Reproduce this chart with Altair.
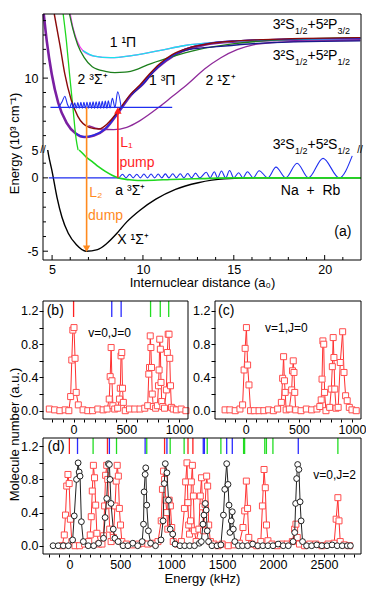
import altair as alt
import pandas as pd

FONT = "Liberation Sans, Arial, Helvetica, sans-serif"

# ---------------- layout (pixels inside the chart) ----------------
W, H = 318, 540
A_TOP, A_BREAK, A_BOT = 0, 136, 246
BC_TOP, BC_BOT = 287, 405
B_L, B_R = 0, 145
C_L, C_R = 172, W
D_TOP, D_BOT = 424, 540

# ---------------- domains ----------------
R_DOM = [4.5, 22.0]
EUP_DOM = [5.0, 14.46]
ELO_DOM = [-5.6, 1.9]
BC_XDOM = [-290, 1085]
BC_YDOM = [-0.1, 1.32]
D_XDOM = [-259, 2864]
D_YDOM = [-0.1, 1.30]

# ---------------- colours ----------------
CYAN, MAG, DKGREEN = "#19E3EC", "#F23CF0", "#1C7F1C"
BROWN, VIOLET, BLUE = "#8B0A0A", "#7A1FA2", "#1E2EF0"
NAVY, PURPLE, AGREEN = "#1A1A8C", "#8E2A9A", "#1ED81E"
ORANGE, RED = "#FF8A1E", "#FF1E1E"
TH_RED, TH_BLUE, TH_GREEN = "#FF2020", "#2B2BFF", "#22DD22"

# ================= DATA: panel (a) =================
magenta_r = [6.00, 6.16, 6.39, 6.70, 7.32, 8.21, 9.46, 10.89, 12.32, 13.93, 15.71, 18.39, 21.96]
magenta_E = [14.46, 13.45, 12.55, 11.91, 11.53, 11.42, 11.58, 11.91, 12.27, 12.48, 12.61, 12.70, 12.77]
cyan_r = [6.70, 7.32, 8.21, 9.46, 10.89, 12.32, 13.93, 15.71, 18.39, 21.96]
cyan_E = [11.91, 11.53, 11.42, 11.58, 11.91, 12.27, 12.48, 12.61, 12.70, 12.77]
dkgreen_r = [5.96, 6.14, 6.41, 6.77, 7.21, 7.93, 8.46, 9.00, 9.71, 10.25, 11.43, 13.04, 14.82, 17.5, 21.96]
dkgreen_E = [14.46, 13.45, 12.32, 11.42, 10.79, 10.47, 10.38, 10.41, 10.63, 10.92, 11.42, 11.98, 12.36, 12.66, 12.82]
brown_r = [5.12, 5.43, 5.70, 6.05, 6.41, 7.04, 7.57, 8.11, 8.64, 9.36, 9.82, 10.36, 10.89, 11.61, 12.5, 13.75, 15.18, 16.61, 21.96]
brown_E = [14.46, 12.32, 10.29, 8.49, 7.36, 6.58, 6.46, 6.91, 7.72, 8.94, 9.50, 10.29, 10.97, 11.64, 12.09, 12.43, 12.59, 12.68, 12.82]
violet_r = [4.54, 4.71, 4.98, 5.34, 5.79, 6.32, 6.77, 7.30, 7.93, 8.64, 9.36, 10.0, 10.54, 11.25, 12.14, 13.39, 15.18, 18.39, 21.96]
violet_E = [14.46, 12.55, 10.29, 8.27, 6.91, 6.13, 5.90, 6.01, 6.46, 7.60, 8.85, 9.60, 10.41, 11.19, 11.87, 12.32, 12.55, 12.68, 12.73]
blue3pi_r = [6.32, 6.77, 7.30, 7.93, 8.64, 9.36, 10.0, 10.54, 11.25, 12.14, 13.39, 15.18, 18.39, 21.96]
blue3pi_E = [6.15, 5.92, 6.03, 6.48, 7.62, 8.87, 9.63, 10.45, 11.24, 11.92, 12.37, 12.60, 12.72, 12.76]
navy_r = [9.36, 10.0, 10.54, 11.43, 12.5, 14.29, 16.25, 18.39, 21.96]
navy_E = [8.85, 9.60, 10.41, 11.42, 11.98, 12.21, 12.41, 12.52, 12.59]
purple_r = [7.0, 7.68, 8.39, 9.11, 9.82, 10.89, 11.61, 12.5, 13.39, 14.29, 15.18, 16.07, 17.5, 19.29, 21.96]
purple_E = [6.70, 6.46, 6.42, 6.58, 7.03, 7.99, 8.72, 9.62, 10.63, 11.42, 11.98, 12.32, 12.50, 12.58, 12.62]
agreen_up_r = [5.61, 5.79, 5.96, 6.14, 6.32, 6.43]
agreen_up_E = [14.46, 12.55, 10.29, 8.04, 5.79, 5.0]

wave_base = [4.91, 11.61, 7.97]  # r start, r end, energy of the bound level
upwave_r = [5.36, 5.55, 5.70, 5.84, 5.96, 6.08, 6.164, 6.248, 6.332, 6.416, 6.50, 6.584, 6.668,
            6.752, 6.836, 6.92, 7.004, 7.088, 7.172, 7.256, 7.34, 7.424, 7.508, 7.592, 7.676,
            7.76, 7.844, 7.928, 8.012, 8.096, 8.19, 8.32, 8.46, 8.61, 8.80]
upwave_E = [7.97, 8.35, 8.74, 8.20, 7.92, 8.28, 7.90, 8.29, 7.90, 8.30, 7.90, 8.31, 7.90,
            8.32, 7.90, 8.33, 7.90, 8.34, 7.90, 8.35, 7.90, 8.36, 7.90, 8.37, 7.90,
            8.39, 7.90, 8.40, 7.90, 8.42, 7.92, 8.60, 7.95, 9.05, 7.97]

agreen_lo_r = [6.48, 6.59, 6.88, 7.21, 7.55, 7.93, 8.30, 8.64, 9.20, 9.71, 10.6, 11.5, 13.2, 15.0, 22.0]
agreen_lo_E = [1.9, 1.78, 1.42, 1.11, 0.76, 0.44, 0.18, 0.0, -0.12, -0.18, -0.16, -0.11, -0.05, 0.0, 0.0]
black_r = [4.76, 4.80, 5.0, 5.27, 5.54, 5.89, 6.34, 6.87, 7.5, 8.04, 8.57, 9.11, 9.82, 10.71, 11.79, 13.04, 14.46, 16.6, 22.0]
black_E = [1.9, 1.6, 0.44, -1.33, -2.67, -3.78, -4.56, -5.0, -4.89, -4.44, -3.78, -3.0, -2.22, -1.45, -0.78, -0.33, -0.07, 0.0, 0.0]
lowave_r = [4.82, 8.66, 8.875, 9.071, 9.268, 9.464, 9.661, 9.857, 10.054, 10.25, 10.446, 10.643,
            10.839, 11.036, 11.232, 11.429, 11.643, 11.839, 12.054, 12.25, 12.464, 12.679,
            12.893, 13.125, 13.482, 13.696, 13.929, 14.107, 14.321, 14.554, 14.768, 15.0,
            15.268, 15.5, 15.75, 16.071, 16.393, 16.875, 17.321, 17.857, 18.482, 19.107,
            19.911, 20.804, 21.518]
lowave_E = [0, 0, 0.25, 0, 0.25, 0, 0.25, 0, 0.26, 0, 0.26, 0,
            0.26, 0, 0.27, 0, 0.28, 0, 0.28, 0, 0.30, 0,
            0.32, 0, 0.38, 0, 0.42, 0, 0.47, 0, 0.50, 0,
            0.35, 0, 0.42, 0, 0.49, 0, 0.73, 0, 1.0, 0,
            1.33, 0, 1.5]

L1_r, L1_up, L1_lo, L1_head = 8.62, [5.0, 7.75], [0.0, 1.9], 7.75
L2_r, L2_up, L2_lo, L2_head = 6.90, [5.0, 7.97], [-4.83, 1.9], -4.83

a_xt_major, a_xt_minor = [5, 10, 15, 20], [6, 7, 8, 9, 11, 12, 13, 14, 16, 17, 18, 19, 21]
a_yt_up_major, a_yt_up_minor = [10], [6, 7, 8, 9, 11, 12, 13, 14]
a_yt_lo_major, a_yt_lo_minor = [-5, 0], [-4, -3, -2, -1, 1]

up_labels = [("1 \u00b9\u03a0", 8.9, 12.43, "black"), ("2 \u00b3\u03a3\u207a", 7.23, 9.86, "black"),
             ("1 \u00b3\u03a0", 11.06, 9.80, "black"), ("2 \u00b9\u03a3\u207a", 14.27, 9.80, "black")]
up_left_labels = [("L\u2081", 8.75, 5.47, RED)]
lo_labels = [("pump", 8.71, 1.02, RED), ("L\u2082", 7.04, -1.0, ORANGE), ("dump", 6.98, -2.58, ORANGE),
             ("a \u00b3\u03a3\u207a", 8.48, -0.91, "black"), ("X \u00b9\u03a3\u207a", 8.59, -4.25, "black"),
             ("Na\u00a0\u00a0+\u00a0\u00a0Rb", 17.59, -0.91, "black"), ("(a)", 20.53, -3.71, "black")]
asym_r = 17.14
asym_E = [13.67, 11.53, 5.36]
asym_main1 = ["3\u00b2S", "3\u00b2S", "3\u00b2S"]
asym_sub1 = ["1/2", "1/2", "1/2"]
asym_main2 = ["+5\u00b2P", "+5\u00b2P", "+5\u00b2S"]
asym_sub2 = ["3/2", "1/2", "1/2"]

# ================= DATA: panels (b), (c), (d) =================
b_khz = [-230, -180, -130, -80, -45, -28, -17, -7, 4, 14, 25, 45, 90, 135, 180, 230, 280, 318, 338, 347,
         356, 364, 373, 390, 418, 435, 443, 450, 457, 464, 472, 490, 530, 580, 630, 675, 703, 713, 720, 727,
         733, 739, 746, 756, 778, 795, 805, 811, 817, 823, 829, 836, 846, 862, 880, 889, 897, 905, 912, 919,
         928, 945, 975, 1020, 1065]
b_val = [0.02, 0.01, 0.0, 0.01, 0.0, 0.17, 0.61, 0.97, 1.0, 0.63, 0.22, 0.07, 0.01, 0.0, 0.0, 0.02, 0.01, 0.02, 0.14, 0.41,
         0.76, 0.36, 0.06, 0.02, 0.03, 0.14, 0.27, 0.66, 0.70, 0.27, 0.10, 0.0, 0.02, 0.02, 0.02, 0.03, 0.06, 0.44, 0.52, 0.90,
         0.76, 0.52, 0.20, 0.05, 0.03, 0.06, 0.30, 0.49, 0.86, 0.74, 0.34, 0.11, 0.05, 0.03, 0.25, 0.70, 0.92, 0.92, 0.63, 0.30,
         0.04, 0.02, 0.01, 0.02, 0.0]
b_th_khz = [0, 362, 451, 730, 822, 902]
b_th_col = [TH_RED, TH_BLUE, TH_BLUE, TH_GREEN, TH_GREEN, TH_GREEN]

c_khz = [-195, -150, -100, -55, -30, -16, -6, 6, 17, 30, 45, 80, 125, 170, 215, 260, 300, 335, 347, 356,
         364, 371, 380, 410, 432, 440, 447, 454, 461, 470, 520, 570, 620, 670, 697, 710, 718, 726, 734, 742,
         755, 790, 805, 815, 823, 830, 838, 850, 870, 890, 912, 925, 940, 955, 975, 1000, 1040]
c_val = [0.01, 0.01, 0.0, 0.02, 0.07, 0.49, 0.75, 1.0, 0.55, 0.31, 0.0, 0.0, 0.0, 0.0, 0.01, 0.0, 0.02, 0.10, 0.39, 0.65,
         0.36, 0.22, 0.01, 0.02, 0.25, 0.48, 0.60, 0.46, 0.22, 0.01, 0.0, 0.02, 0.01, 0.02, 0.05, 0.13, 0.38, 0.84, 0.80, 0.22,
         0.0, 0.04, 0.26, 0.53, 0.88, 0.64, 0.26, 0.03, 0.04, 0.58, 0.95, 0.46, 0.18, 0.12, 0.04, 0.01, 0.0]

d_red_khz = [-70, -50, -38, -26, -14, -2, 10, 24, 55, 100, 150, 190, 205, 215, 225, 236, 247, 258, 270, 290,
             320, 336, 346, 356, 367, 377, 386, 396, 410, 432, 448, 460, 470, 481, 491, 502, 515, 560, 620, 680,
             720, 770, 820, 870, 902, 914, 925, 935, 946, 957, 967, 980, 992, 1005, 1020, 1060, 1100, 1130, 1142, 1155,
             1164, 1172, 1180, 1190, 1198, 1208, 1218, 1228, 1245, 1272, 1286, 1298, 1308, 1318, 1333, 1348, 1358, 1368, 1385, 1420,
             1460, 1500, 1560, 1620, 1670, 1705, 1722, 1738, 1750, 1762, 1790, 1840, 1880, 1896, 1912, 1924, 1936, 1950, 1990, 2040,
             2090, 2140, 2190, 2212, 2225, 2238, 2260, 2310, 2360, 2420, 2480, 2540, 2600, 2620, 2637, 2648, 2660, 2700, 2750]
d_red_val = [0.0, 0.13, 0.37, 0.72, 0.86, 0.75, 0.32, 0.05, 0.0, 0.0, 0.02, 0.05, 0.13, 0.35, 0.66, 0.97, 0.82, 0.49, 0.15, 0.02,
             0.02, 0.12, 0.48, 0.85, 0.97, 0.80, 0.49, 0.20, 0.05, 0.10, 0.48, 0.78, 0.97, 0.84, 0.45, 0.25, 0.05, 0.02, 0.01, 0.02,
             0.03, 0.02, 0.03, 0.05, 0.30, 0.68, 0.90, 0.80, 0.55, 0.40, 0.20, 0.55, 0.48, 0.22, 0.05, 0.02, 0.05, 0.45, 0.77, 1.0,
             0.52, 0.25, 0.14, 0.30, 0.77, 0.97, 0.60, 0.18, 0.05, 0.20, 0.60, 0.82, 0.47, 0.18, 0.50, 0.84, 0.72, 0.25, 0.05, 0.02,
             0.0, 0.02, 0.0, 0.01, 0.03, 0.22, 0.42, 0.78, 0.45, 0.10, 0.02, 0.0, 0.05, 0.48, 0.92, 0.70, 0.25, 0.06, 0.02, 0.0,
             0.02, 0.02, 0.05, 0.20, 0.26, 0.10, 0.02, 0.0, 0.02, 0.02, 0.0, 0.02, 0.03, 0.32, 0.58, 0.30, 0.05, 0.01, 0.0]
d_blk_khz = [-160, -110, -60, -10, 32, 48, 70, 86, 96, 105, 118, 137, 185, 239, 287, 335, 351, 367, 383, 393,
             399, 409, 431, 447, 479, 527, 575, 623, 671, 715, 728, 734, 744, 750, 760, 776, 798, 846, 900, 920,
             932, 942, 958, 974, 990, 1015, 1038, 1086, 1133, 1181, 1229, 1277, 1296, 1312, 1322, 1335, 1344, 1354, 1367, 1400,
             1450, 1488, 1513, 1526, 1545, 1558, 1568, 1577, 1590, 1600, 1610, 1625, 1660, 1700, 1750, 1800, 1850, 1900, 1950, 2000,
             2050, 2100, 2150, 2197, 2213, 2222, 2232, 2242, 2254, 2266, 2276, 2290, 2330, 2380, 2430, 2480, 2530, 2580, 2630, 2680,
             2730, 2760]
d_blk_val = [0.0, 0.0, 0.0, 0.0, 0.07, 0.36, 0.80, 1.0, 0.89, 0.84, 0.29, 0.05, 0.0, 0.0, 0.03, 0.09, 0.34, 0.57, 0.99, 0.98,
             0.80, 0.51, 0.20, 0.09, 0.05, 0.0, 0.0, 0.03, 0.0, 0.05, 0.26, 0.65, 0.86, 0.94, 0.49, 0.18, 0.03, 0.0, 0.07, 0.30,
             0.75, 0.99, 0.88, 0.55, 0.20, 0.14, 0.02, 0.0, 0.0, 0.0, 0.0, 0.03, 0.05, 0.26, 0.37, 0.51, 0.43, 0.18, 0.05, 0.0,
             0.0, 0.01, 0.37, 0.68, 0.99, 0.74, 0.49, 0.16, 0.30, 0.41, 0.20, 0.05, 0.0, 0.0, 0.0, 0.02, 0.0, 0.0, 0.0, 0.0,
             0.02, 0.0, 0.0, 0.05, 0.16, 0.51, 0.81, 0.98, 0.92, 0.53, 0.30, 0.05, 0.0, 0.0, 0.01, 0.0, 0.0, 0.01, 0.0, 0.0,
             0.0, 0.0]
d_th_khz = [0, 80, 233, 374, 393, 463, 744, 760, 935, 958, 990, 1127, 1165, 1213, 1315, 1326, 1354, 1488,
            1545, 1600, 1711, 1721, 1919, 1935, 1999, 2248, 2637]
d_th_col = [TH_RED, TH_BLUE, TH_GREEN, TH_RED, TH_BLUE, TH_GREEN, TH_BLUE, TH_GREEN, TH_RED, TH_BLUE, TH_GREEN,
            TH_GREEN, TH_RED, TH_RED, TH_BLUE, TH_BLUE, TH_GREEN, TH_GREEN, TH_BLUE, TH_BLUE, TH_GREEN, TH_GREEN,
            TH_GREEN, TH_GREEN, TH_GREEN, TH_BLUE, TH_GREEN]

panel_tags = [("(b)", -255, 1.20), ("(c)", -262, 1.20), ("(d)", -215, 1.19)]
state_tags = [("v=0,J=0", 138, 0.935), ("v=1,J=0", 181, 0.99), ("v=0,J=2", 2395, 0.85)]

DUMMY = pd.DataFrame({"k": [0]})


# ================= scales =================
def sc(dom, rng):
    return alt.Scale(domain=dom, range=rng, nice=False, zero=False)


SX_A = sc(R_DOM, [0, W])
SY_UP = sc(EUP_DOM, [A_BREAK, A_TOP])
SY_LO = sc(ELO_DOM, [A_BOT, A_BREAK])
SX_B = sc(BC_XDOM, [B_L, B_R])
SX_C = sc(BC_XDOM, [C_L, C_R])
SY_BC = sc(BC_YDOM, [BC_BOT, BC_TOP])
SX_D = sc(D_XDOM, [0, W])
SY_D = sc(D_YDOM, [D_BOT, D_TOP])

# ================= axes =================
ax_a_up_y = alt.Axis(orient="left", values=[5, 10], ticks=False, domain=False, grid=False, labelPadding=5,
                     format="d", title="Energy (10\u00b3 cm\u207b\u00b9)", titleX=-22, titleY=129,
                     titleAngle=270, titleBaseline="bottom", titleAlign="center")
ax_a_lo_y = alt.Axis(orient="left", values=[-5, 0], ticks=False, domain=False, grid=False, labelPadding=5,
                     labelExpr="datum.value < 0 ? '-' + format(-datum.value, 'd') : format(datum.value, 'd')",
                     title=None)
ax_a_lo_x = alt.Axis(orient="bottom", offset=A_BOT - H, values=[5, 10, 15, 20], ticks=False, domain=False,
                     grid=False, labelPadding=3, format="d", labelFlush=False,
                     title="Internuclear distance (a\u2080)", titlePadding=1)

Y_VALS = [0, 0.2, 0.4, 0.6, 0.8, 1.0, 1.2]
Y_EXPR = "round(datum.value*10) % 4 == 0 ? format(datum.value, '.1f') : ''"
X_EXPR = "datum.value % 500 == 0 ? format(datum.value, 'd') : ''"


def mol_y(offset, title=None):
    if title:
        return alt.Axis(orient="left", offset=offset, values=Y_VALS, labelExpr=Y_EXPR, tickSize=4,
                        labelPadding=1, domain=False, grid=False, title=title, titleX=-22, titleY=420,
                        titleAngle=270, titleBaseline="bottom", titleAlign="center")
    return alt.Axis(orient="left", offset=offset, values=Y_VALS, labelExpr=Y_EXPR, tickSize=4,
                    labelPadding=1, domain=False, grid=False, title=None)


def khz_x(offset, vals, title=None):
    if title:
        return alt.Axis(orient="bottom", offset=offset, values=vals, labelExpr=X_EXPR, tickSize=3,
                        labelPadding=1, domain=False, grid=False, labelFlush=False, labelOverlap=False,
                        title=title, titlePadding=2)
    return alt.Axis(orient="bottom", offset=offset, values=vals, labelExpr=X_EXPR, tickSize=3,
                    labelPadding=1, domain=False, grid=False, labelFlush=False, labelOverlap=False, title=None)


# every layer of a panel carries the same (x, y) scales and axes, so that they merge
P_UP = (SX_A, SY_UP, None, ax_a_up_y)
P_LO = (SX_A, SY_LO, ax_a_lo_x, ax_a_lo_y)
P_B = (SX_B, SY_BC, khz_x(BC_BOT - H, list(range(-200, 1001, 100))), mol_y(0))
P_C = (SX_C, SY_BC, khz_x(BC_BOT - H, list(range(-200, 1001, 100))), mol_y(-C_L))
P_D = (SX_D, SY_D, khz_x(0, list(range(-200, 2801, 100)), title="Energy (kHz)"),
       mol_y(0, title="Molecule number (a.u.)"))


def X(field, p):
    return alt.X(f"{field}:Q", scale=p[0], axis=p[2])


def Y(field, p):
    return alt.Y(f"{field}:Q", scale=p[1], axis=p[3])


def curve(xs, ys, color, p, width=1.3):
    df = pd.DataFrame({"x": xs, "y": ys})
    return alt.Chart(df).mark_line(color=color, strokeWidth=width, interpolate="monotone").encode(
        x=X("x", p), y=Y("y", p))


def vseg(r, ys, color, p):
    df = pd.DataFrame({"x": [r], "y1": [ys[0]], "y2": [ys[1]]})
    return alt.Chart(df).mark_rule(color=color, strokeWidth=1.6).encode(x=X("x", p), y=Y("y1", p), y2="y2:Q")


def hseg(xs, e, color, p):
    df = pd.DataFrame({"x1": [xs[0]], "x2": [xs[1]], "y": [e]})
    return alt.Chart(df).mark_rule(color=color, strokeWidth=1.2).encode(x=X("x1", p), x2="x2:Q", y=Y("y", p))


def head(r, e, shape, color, p):
    df = pd.DataFrame({"x": [r], "y": [e]})
    return alt.Chart(df).mark_point(shape=shape, filled=True, color=color, size=55, opacity=1).encode(
        x=X("x", p), y=Y("y", p))


def texts(items, p, size=14, align="left"):
    df = pd.DataFrame(items, columns=["t", "x", "y", "c"])
    return alt.Chart(df).mark_text(align=align, baseline="middle", fontSize=size, font=FONT).encode(
        x=X("x", p), y=Y("y", p), text="t:N", color=alt.Color("c:N", scale=None))


def bottom_ticks(vals, p, ybot, length):
    df = pd.DataFrame({"x": vals})
    return alt.Chart(df).mark_rule(color="black", strokeWidth=1).encode(
        x=X("x", p), y=alt.value(ybot), y2=alt.value(ybot - length))


def left_ticks(vals, p, length):
    df = pd.DataFrame({"y": vals})
    return alt.Chart(df).mark_rule(color="black", strokeWidth=1).encode(
        y=Y("y", p), x=alt.value(0), x2=alt.value(length))


def theory(xs, cols, p, top):
    df = pd.DataFrame({"x": xs, "c": cols})
    return alt.Chart(df).mark_rule(strokeWidth=1.3).encode(
        x=X("x", p), y=alt.value(top), y2=alt.value(top + 16), color=alt.Color("c:N", scale=None))


def scatter(xs, ys, p, line_color, stroke, shape, size):
    df = pd.DataFrame({"x": xs, "y": ys})
    base = alt.Chart(df).encode(x=X("x", p), y=Y("y", p))
    ln = base.mark_line(color=line_color, strokeWidth=1)
    pt = base.mark_point(shape=shape, size=size, filled=True, fill="white", stroke=stroke,
                         strokeWidth=1, opacity=1)
    return [ln, pt]


def frame(l, r, t, b):
    return alt.Chart(DUMMY).mark_rect(fill="white", fillOpacity=0, stroke="black", strokeWidth=1).encode(
        x=alt.value(l), x2=alt.value(r), y=alt.value(t), y2=alt.value(b))


# ================= panel (a), upper part =================
up_layers = [
    curve(violet_r, violet_E, VIOLET, P_UP, width=2.6),
    curve(agreen_up_r, agreen_up_E, AGREEN, P_UP),
    curve(purple_r, purple_E, PURPLE, P_UP),
    curve(magenta_r, magenta_E, MAG, P_UP),
    curve(cyan_r, cyan_E, CYAN, P_UP),
    curve(dkgreen_r, dkgreen_E, DKGREEN, P_UP),
    curve(navy_r, navy_E, NAVY, P_UP),
    curve(blue3pi_r, blue3pi_E, BLUE, P_UP, width=1.2),
    curve(brown_r, brown_E, BROWN, P_UP, width=1.4),
    hseg(wave_base[:2], wave_base[2], BLUE, P_UP),
    curve(upwave_r, upwave_E, BLUE, P_UP, width=1.1),
    vseg(L2_r, L2_up, ORANGE, P_UP),
    vseg(L1_r, L1_up, RED, P_UP),
    head(L1_r, L1_head, "triangle-up", RED, P_UP),
    texts(up_labels, P_UP, size=14, align="center"),
    texts(up_left_labels, P_UP, size=14),
    left_ticks(a_yt_up_minor, P_UP, 3),
    left_ticks(a_yt_up_major, P_UP, 5),
]
asym_df = pd.DataFrame({"x": [asym_r] * 3, "y": asym_E, "m1": asym_main1, "s1": asym_sub1,
                        "m2": asym_main2, "s2": asym_sub2})
for fld, size, dx, dy in [("m1", 14, 0, 0), ("s1", 9, 22.3, 6), ("m2", 14, 34.8, 0), ("s2", 9, 64.8, 6)]:
    up_layers.append(
        alt.Chart(asym_df).mark_text(align="left", baseline="middle", fontSize=size, font=FONT, dx=dx, dy=dy,
                                     color="black")
        .encode(x=X("x", P_UP), y=Y("y", P_UP), text=f"{fld}:N"))
A_up = alt.layer(*up_layers)

# ================= panel (a), lower part =================
A_lo = alt.layer(
    curve(black_r, black_E, "black", P_LO, width=1.4),
    curve(lowave_r, lowave_E, BLUE, P_LO, width=1.1),
    curve(agreen_lo_r, agreen_lo_E, AGREEN, P_LO, width=1.6),
    vseg(L2_r, L2_lo, ORANGE, P_LO),
    vseg(L1_r, L1_lo, RED, P_LO),
    head(L2_r, L2_head, "triangle-down", ORANGE, P_LO),
    texts(lo_labels, P_LO, size=14),
    bottom_ticks(a_xt_minor, P_LO, A_BOT, 3),
    bottom_ticks(a_xt_major, P_LO, A_BOT, 5),
    left_ticks(a_yt_lo_minor, P_LO, 3),
    left_ticks(a_yt_lo_major, P_LO, 5),
)

# ================= panels (b), (c), (d) =================
B = alt.layer(
    *scatter(b_khz, b_val, P_B, "#FF3030", "#FF4D4D", "square", 36),
    theory(b_th_khz, b_th_col, P_B, BC_TOP),
    texts([(panel_tags[0][0], panel_tags[0][1], panel_tags[0][2], "black")], P_B, size=14),
    texts([(state_tags[0][0], state_tags[0][1], state_tags[0][2], "black")], P_B, size=12),
)
C = alt.layer(
    *scatter(c_khz, c_val, P_C, "#FF3030", "#FF4D4D", "square", 36),
    texts([(panel_tags[1][0], panel_tags[1][1], panel_tags[1][2], "black")], P_C, size=14),
    texts([(state_tags[1][0], state_tags[1][1], state_tags[1][2], "black")], P_C, size=12),
)
D = alt.layer(
    *scatter(d_red_khz, d_red_val, P_D, "#FF3030", "#FF4D4D", "square", 36),
    *scatter(d_blk_khz, d_blk_val, P_D, "#222222", "#222222", "circle", 34),
    theory(d_th_khz, d_th_col, P_D, D_TOP),
    texts([(panel_tags[2][0], panel_tags[2][1], panel_tags[2][2], "black")], P_D, size=14),
    texts([(state_tags[2][0], state_tags[2][1], state_tags[2][2], "black")], P_D, size=12),
)

frames = [frame(0, W, A_TOP, A_BOT), frame(B_L, B_R, BC_TOP, BC_BOT),
          frame(C_L, C_R, BC_TOP, BC_BOT), frame(0, W, D_TOP, D_BOT)]
breaks = [alt.Chart(DUMMY).mark_text(text="//", fontSize=10, font=FONT, color="black")
          .encode(x=alt.value(xp), y=alt.value(A_BREAK)) for xp in (0, W - 1)]

chart = (
    alt.layer(A_up, A_lo, B, C, D, *frames, *breaks)
    .resolve_scale(x="independent", y="independent")
    .resolve_axis(x="independent", y="independent")
    .properties(width=W, height=H, padding=0)
    .configure_view(strokeWidth=0)
    .configure_axis(labelFont=FONT, titleFont=FONT, labelFontSize=12.5, titleFontSize=13,
                    titleFontWeight="normal", labelColor="black", titleColor="black",
                    tickColor="black", tickWidth=1)
)

chart.save("out.html", embed_options={"renderer": "svg", "actions": False})
